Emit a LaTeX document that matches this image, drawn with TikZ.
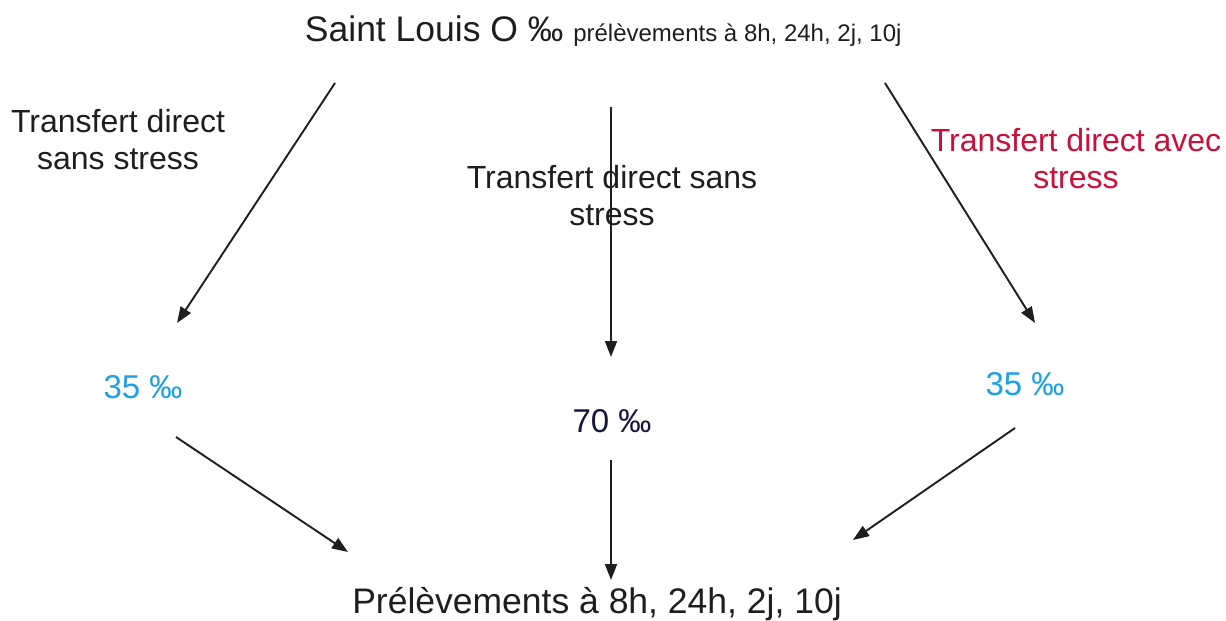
\documentclass[tikz,border=0pt]{standalone}
\usepackage{fontspec}
\setmainfont{Liberation Sans}
\usetikzlibrary{arrows.meta}

\definecolor{saltblue}{RGB}{30,160,228}
\definecolor{stressred}{RGB}{200,16,58}
\definecolor{navy}{RGB}{22,22,58}
\definecolor{ink}{RGB}{30,30,30}

\newcommand{\bigtxt}{\fontsize{35.5}{41}\selectfont}
\newcommand{\midtxt}{\fontsize{32}{36.5}\selectfont}
\newcommand{\smalltxt}{\fontsize{24}{28}\selectfont}

\tikzset{
  every label/.style={inner sep=0pt, anchor=base, align=center, font=\midtxt, text=ink},
  every percent/.style={inner sep=0pt, anchor=base, font=\fontsize{33}{38}\selectfont},
}

\begin{document}
\begin{tikzpicture}[x=1pt, y=-1pt, >={Triangle[length=16pt, width=12pt]},
  line width=1.9pt, draw=ink]

\useasboundingbox [fill=white] (0,0) rectangle (1226,621);

% source and samples
\node [inner sep=0pt, anchor=base west, text=ink] (source) at (304,41)
  {\bigtxt Saint Louis O ‰ {\smalltxt prélèvements à 8h, 24h, 2j, 10j}};
\node [inner sep=0pt, anchor=base, text=ink, font=\bigtxt] (samples) at (597,613)
  {Prélèvements à 8h, 24h, 2j, 10j};

% transfer labels (placed at the last line)
\node [every label/.try] (transfer-1) at (118,169) {Transfert direct\\sans stress};
\node [every label/.try] (transfer-2) at (612,225) {Transfert direct sans\\stress};
\node [every label/.try, text=stressred] (transfer-3) at (1076,188) {Transfert direct avec\\stress};

% salinities
\foreach \s/\c/\x/\y [count=\i] in {35/saltblue/143/398, 70/navy/612/432, 35/saltblue/1025/395}
  \node [every percent/.try, text=\c] (salinity-\i) at (\x,\y) {\s\ ‰};

% arrow ends
\foreach \x/\y [count=\i] in {335/83, 611/107, 885/83}
  \coordinate (out-\i) at (\x,\y);
\foreach \x/\y [count=\i] in {177/323, 611/357, 1035/323}
  \coordinate (in-\i) at (\x,\y);
\foreach \x/\y [count=\i] in {176/437, 611/460, 1015/428}
  \coordinate (from-\i) at (\x,\y);
\foreach \x/\y [count=\i] in {348/552, 611/580, 853/540}
  \coordinate (to-\i) at (\x,\y);

\foreach \i in {1,...,3}
  \draw [->] (out-\i) -- (in-\i);

\foreach \i in {1,...,3}
  \draw [->] (from-\i) -- (to-\i);

\end{tikzpicture}
\end{document}
